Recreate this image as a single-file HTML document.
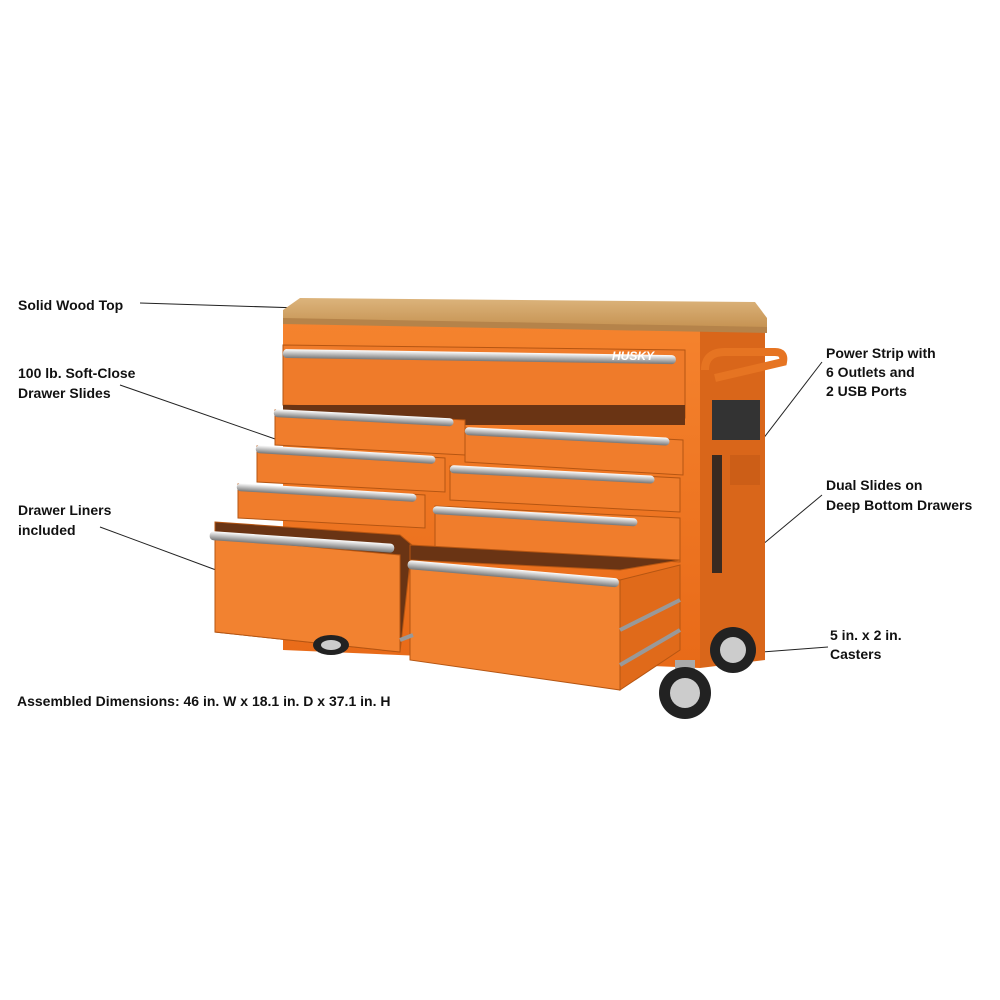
<!DOCTYPE html>
<html><head><meta charset="utf-8"><style>
html,body{margin:0;padding:0;background:#fff;}
svg{display:block}
text{font-family:"Liberation Sans",sans-serif;font-weight:bold;font-size:14px;fill:#111}
</style></head><body>
<svg width="1000" height="1000" viewBox="0 0 1000 1000" xmlns="http://www.w3.org/2000/svg">
<defs>
<linearGradient id="wood" x1="0" y1="0" x2="0" y2="1"><stop offset="0" stop-color="#dcb47c"/><stop offset="1" stop-color="#c4904f"/></linearGradient>
<linearGradient id="or" x1="0" y1="0" x2="0" y2="1"><stop offset="0" stop-color="#f5832e"/><stop offset="1" stop-color="#e86a18"/></linearGradient>
<linearGradient id="h" x1="0" y1="0" x2="0" y2="1"><stop offset="0" stop-color="#fff"/><stop offset=".5" stop-color="#bbb"/><stop offset="1" stop-color="#777"/></linearGradient>
</defs>
<text x="18" y="310">Solid Wood Top</text>
<text x="18" y="378">100 lb. Soft-Close</text>
<text x="18" y="398">Drawer Slides</text>
<text x="18" y="515">Drawer Liners</text>
<text x="18" y="535">included</text>
<text x="17" y="706">Assembled Dimensions: 46 in. W x 18.1 in. D x 37.1 in. H</text>
<text x="826" y="358">Power Strip with</text>
<text x="826" y="377">6 Outlets and</text>
<text x="826" y="396">2 USB Ports</text>
<text x="826" y="490">Dual Slides on</text>
<text x="826" y="510">Deep Bottom Drawers</text>
<text x="830" y="640">5 in. x 2 in.</text>
<text x="830" y="659">Casters</text>
<g stroke="#222" stroke-width="1" fill="none">
<line x1="140" y1="303" x2="300" y2="308"/>
<line x1="120" y1="385" x2="278" y2="440"/>
<line x1="100" y1="527" x2="216" y2="570"/>
<line x1="822" y1="362" x2="733" y2="478"/>
<line x1="822" y1="495" x2="690" y2="605"/>
<line x1="828" y1="647" x2="762" y2="652"/>
</g>
<polygon points="700,330 765,325 765,660 700,668" fill="#d9661a"/>
<polygon points="283,320 700,330 700,668 283,650" fill="url(#or)"/>
<polygon points="283,310 300,298 755,302 767,318 767,330 283,322" fill="url(#wood)"/>
<polygon points="283,318 767,327 767,333 283,324" fill="#b5834a"/>
<path d="M705,370 Q705,352 725,352 L775,352 Q785,352 783,362 L715,378" stroke="#e67422" stroke-width="8" fill="none"/>
<rect x="712" y="400" width="48" height="40" fill="#333"/>
<rect x="730" y="455" width="30" height="30" fill="#cc5e17"/>
<rect x="712" y="455" width="10" height="118" fill="#3a2a20"/>
<polygon points="283,345 685,350 685,418 283,405" fill="#ef7b2a" stroke="#b55512"/>
<rect x="283" y="349" width="393" height="9" rx="4" fill="url(#h)" transform="rotate(0.9 283 349)"/>
<text x="612" y="360" style="fill:#fff;font-size:12px;font-style:italic">HUSKY</text>
<rect x="283" y="405" width="402" height="20" fill="#6a3414"/>
<g stroke="#b55512">
<polygon points="275,410 465,420 465,455 275,445" fill="#f07d2c"/>
<polygon points="257,446 445,458 445,492 257,482" fill="#f07d2c"/>
<polygon points="238,484 425,495 425,528 238,518" fill="#f07d2c"/>
<polygon points="215,522 400,535 412,545 400,652 215,632" fill="#6a3414"/>
<polygon points="215,538 400,555 400,652 215,632" fill="#f28230"/>
<polygon points="465,428 683,440 683,475 465,462" fill="#f07d2c"/>
<polygon points="450,466 680,478 680,512 450,500" fill="#f07d2c"/>
<polygon points="435,506 680,518 680,562 435,548" fill="#f07d2c"/>
<polygon points="410,545 680,560 620,570 410,560" fill="#6a3414"/>
<polygon points="410,562 620,580 620,690 410,660" fill="#f28230"/>
<polygon points="620,580 680,565 680,650 620,690" fill="#e06a1a"/>
</g>
<g fill="url(#h)">
<rect x="274" y="409" width="180" height="8" rx="4" transform="rotate(3 274 409)"/>
<rect x="256" y="445" width="180" height="8" rx="4" transform="rotate(3.5 256 445)"/>
<rect x="237" y="483" width="180" height="8" rx="4" transform="rotate(3.5 237 483)"/>
<rect x="210" y="531" width="185" height="9" rx="4" transform="rotate(4 210 531)"/>
<rect x="465" y="427" width="205" height="8" rx="4" transform="rotate(3 465 427)"/>
<rect x="450" y="465" width="205" height="8" rx="4" transform="rotate(3 450 465)"/>
<rect x="433" y="506" width="205" height="8" rx="4" transform="rotate(3.5 433 506)"/>
<rect x="408" y="560" width="212" height="9" rx="4" transform="rotate(5 408 560)"/>
</g>
<g stroke="#999" stroke-width="4">
<line x1="620" y1="630" x2="680" y2="600"/><line x1="620" y1="665" x2="680" y2="630"/>
<line x1="400" y1="640" x2="413" y2="635"/>
</g>
<g>
<ellipse cx="331" cy="645" rx="18" ry="10" fill="#222"/><ellipse cx="331" cy="645" rx="10" ry="5" fill="#ccc"/>
<circle cx="733" cy="650" r="23" fill="#222"/><circle cx="733" cy="650" r="13" fill="#ccc"/>
<rect x="675" y="660" width="20" height="15" fill="#aaa"/>
<circle cx="685" cy="693" r="26" fill="#222"/><circle cx="685" cy="693" r="15" fill="#ccc"/>
</g>
</svg>
</body></html>
